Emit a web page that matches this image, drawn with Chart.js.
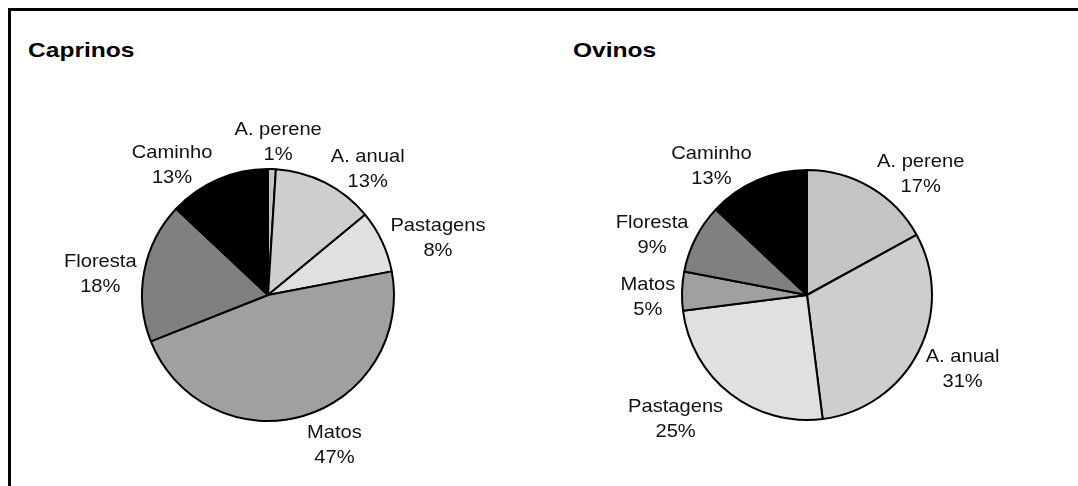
<!DOCTYPE html>
<html>
<head>
<meta charset="utf-8">
<script src="https://cdn.jsdelivr.net/npm/chart.js@4/dist/chart.umd.min.js"></script>
<style>
  body { margin: 0; background: #fff; }
  #wrap { position: relative; width: 1078px; height: 486px; overflow: hidden; background: #fff; }
  #frame { position: absolute; left: 8px; top: 8px; width: 1080px; height: 490px;
           border-top: 3px solid #000; border-left: 3px solid #000; }
  .title { position: absolute; top: 38px; font: bold 21px "Liberation Sans", Arial, sans-serif;
           color: #000; transform: scaleX(1.17); transform-origin: left center; }
  canvas { position: absolute; top: 0; }
</style>
</head>
<body>
<div id="wrap">
  <div id="frame"></div>
  <div class="title" style="left:28px">Caprinos</div>
  <div class="title" style="left:573px">Ovinos</div>
  <canvas id="caprinos" width="540" height="486" style="left:0"></canvas>
  <canvas id="ovinos" width="538" height="486" style="left:540px"></canvas>
</div>
<script>
// Categories (clockwise from 12 o'clock)
const categories = ["A. perene", "A. anual", "Pastagens", "Matos", "Floresta", "Caminho"];

// Series values (%)
const caprinosValues = [1, 13, 8, 47, 18, 13];
const ovinosValues = [17, 31, 25, 5, 9, 13];

// Slice colours
const sliceColors = ["#c4c4c4", "#cecece", "#e0e0e0", "#a0a0a0", "#808080", "#000000"];

// Draw "name / nn%" labels outside each slice, beside the slice's edge point
const outsideLabels = {
    id: "outsideLabels",
    afterDatasetsDraw(chart) {
        const ctx = chart.ctx;
        const meta = chart.getDatasetMeta(0);
        const values = chart.data.datasets[0].data;
        const stretch = 1.06;
        const lineH = 25;
        ctx.save();
        ctx.font = '19px "Liberation Sans", Arial, sans-serif';
        ctx.fillStyle = "#111";
        ctx.textAlign = "center";
        ctx.textBaseline = "middle";
        meta.data.forEach((arc, i) => {
            const p = arc.getProps(["x", "y", "startAngle", "endAngle", "outerRadius"], true);
            const mid = (p.startAngle + p.endAngle) / 2;
            const ux = Math.cos(mid), uy = Math.sin(mid);
            const lines = [chart.data.labels[i], values[i] + "%"];
            const w = Math.max(...lines.map(t => ctx.measureText(t).width)) * stretch;
            const h = 48;
            const R = p.outerRadius + 4;
            // near 12/6 o'clock the box sits above/below, elsewhere beside the edge point
            const t = Math.min(1, Math.abs(ux) * 4);
            const sx = Math.max(-1, Math.min(1, ux * 4)) * 1.1;
            const sy = (1 - t) * uy + t * (uy * 0.8 + 0.3);
            const cx = p.x + ux * R + sx * w / 2;
            const cy = p.y + uy * R + sy * h / 2;
            lines.forEach((s, k) => {
                ctx.save();
                ctx.translate(cx, cy + (k - 0.5) * lineH);
                ctx.scale(stretch, 1);
                ctx.fillText(s, 0, 0);
                ctx.restore();
            });
        });
        ctx.restore();
    }
};

function makePie(id, values) {
    const ctx = document.getElementById(id).getContext("2d");
    return new Chart(ctx, {
        type: "pie",
        data: {
            labels: categories,
            datasets: [{
                data: values,
                backgroundColor: sliceColors,
                borderColor: "#000",
                borderWidth: 2,
            }],
        },
        options: {
            responsive: false,
            animation: false,
            layout: { padding: { left: 141, right: 145, top: 168, bottom: 64 } },
            plugins: {
                legend: { display: false },
                tooltip: { enabled: false },
                title: { display: false },
            },
        },
        plugins: [outsideLabels],
    });
}

makePie("caprinos", caprinosValues);
makePie("ovinos", ovinosValues);
</script>
</body>
</html>
